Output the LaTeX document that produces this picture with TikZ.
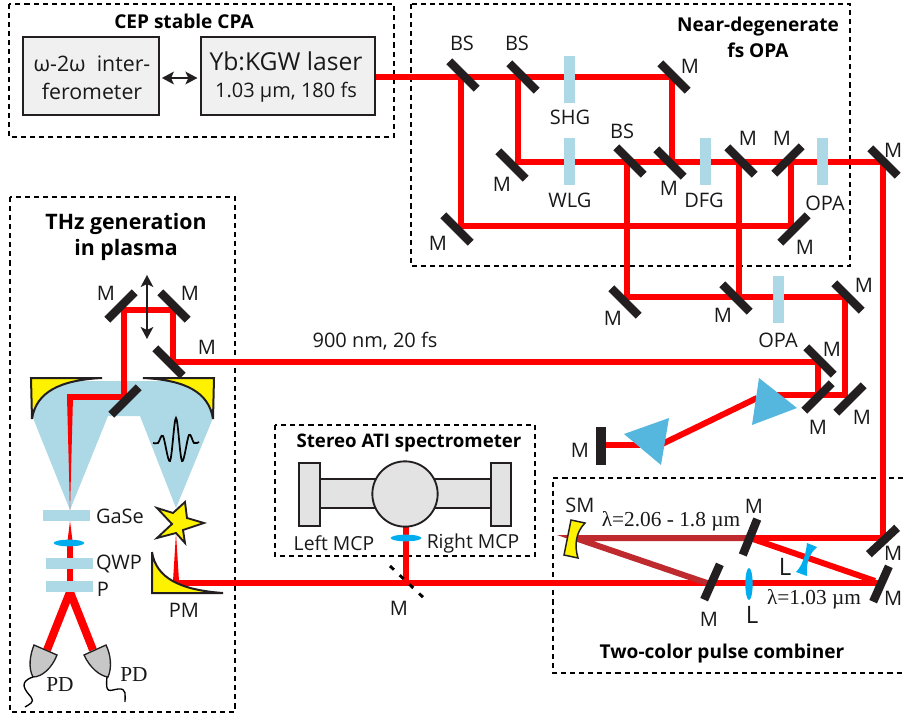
\documentclass[tikz,border=0pt]{standalone}
\usepackage{fontspec}
\setmainfont{Open Sans}
\newfontfamily\grk{Open Sans}
\newfontfamily\srf{Liberation Serif}
\usetikzlibrary{arrows.meta}
\definecolor{dk}{HTML}{231F20}
\definecolor{plate}{HTML}{ADD8E6}
\definecolor{prism}{HTML}{56B7DE}
\definecolor{lens}{HTML}{00AEEF}
\definecolor{dred}{HTML}{BE2A2E}
\definecolor{yel}{HTML}{FFF200}
\tikzset{
 beam/.style={draw=red,line width=4.5pt},
 dbeam/.style={draw=dred,line width=4.5pt},
 taper/.style={fill=red,draw=none},
 mirror/.style={fill=dk,draw=none,inner sep=0pt,minimum width=29pt,minimum height=6.3pt},
 plateV/.style={fill=plate,draw=none,inner sep=0pt,minimum width=8.25pt,minimum height=35.25pt},
 plateH/.style={fill=plate,draw=none,inner sep=0pt,minimum width=35.25pt,minimum height=8.25pt},
 lensE/.style={ellipse,fill=lens,draw=none,inner sep=0pt},
 dbox/.style={draw=black,line width=1.4pt,dash pattern=on 3.8pt off 3pt},
 lab/.style={inner sep=0pt,text=black!90,font=\fontsize{15}{18}\selectfont,align=center},
 tit/.style={inner sep=0pt,text=black,font=\fontsize{14.3}{19.5}\selectfont\bfseries,align=center},
 ser/.style={inner sep=0pt,text=black!90,font=\fontsize{16}{18}\selectfont\srf},
 hard/.style={draw=dk,line width=1.4pt,fill=#1},
 gbox/.style={draw=dk,line width=1.3pt,fill=black!6,inner sep=0pt},
 dblarrow/.style={{Stealth[length=9pt,width=9.5pt,inset=2.2pt]}-{Stealth[length=9pt,width=9.5pt,inset=2.2pt]},dk},
}
\usetikzlibrary{shapes.geometric}
\begin{document}
\begin{tikzpicture}[x=0.75pt,y=-0.75pt]
\useasboundingbox (0,0) rectangle (903,717);
\clip (0,0) rectangle (903,717);
\fill[white] (0,0) rectangle (903,717);
% beam vertices
\coordinate (a0) at (375,77.5);
\coordinate (a1) at (672,77.5);
\coordinate (a2) at (672,162);
\coordinate (b1) at (461,77.5);
\coordinate (b2) at (461,226);
\coordinate (b3) at (791,226);
\coordinate (b4) at (791,162);
\coordinate (c1) at (517.5,77.5);
\coordinate (c2) at (517.5,162);
\coordinate (c3) at (883,162);
\coordinate (c4) at (883,538);
\coordinate (c5) at (750,538);
\coordinate (c6) at (575,538);
\coordinate (c7) at (707,583);
\coordinate (c8) at (875,581);
\coordinate (d0) at (881,583);
\coordinate (d1) at (173,583);
\coordinate (e1) at (627,162);
\coordinate (e2) at (627,297);
\coordinate (e3) at (845,297);
\coordinate (e4) at (845,395);
\coordinate (e5) at (770,395);
\coordinate (e6) at (757,398);
\coordinate (e7) at (660,445);
\coordinate (e8) at (640,445);
\coordinate (e9) at (601,445);
\coordinate (f1) at (739,162);
\coordinate (f2) at (739,297);
\coordinate (g0) at (818,395);
\coordinate (g1) at (818,362);
\coordinate (g2) at (173,362);
\coordinate (g3) at (173,310);
\coordinate (g4) at (124,310);
\coordinate (g5) at (124,397);
\coordinate (g6) at (67,397);
\coordinate (h1) at (406,527);
\coordinate (h2) at (406,583);
\coordinate (p1) at (70,543);
\coordinate (p2) at (70,592);
\coordinate (p3) at (47,650);
\coordinate (p4) at (93,650);
% light-blue THz cones
\fill[plate] (33,418)--(33,395)--(72,381)--(175,381)--(213,395)--(213,418)--(176,508)--(140,416)--(108,416)--(70,510)--cycle;
% dashed frames
\draw[dbox] (9,4) rectangle (394,137);
\draw[dbox] (411,4) rectangle (850,266);
\draw[dbox] (10,197) rectangle (235,712);
\draw[dbox] (275,425) rectangle (535,556);
\draw[dbox] (903,478)--(553,478)--(553,673)--(903,673);
% beams
\draw[beam] (a0)--(a1)--(a2);
\draw[beam] (b1)--(b2)--(b3)--(b4);
\draw[beam] (c1)--(c2)--(c3)--(c4)--(c5);
\draw[beam] (c5)--(c8);
\draw[beam] (e1)--(e2)--(e3)--(e4)--(e5);
\draw[beam] (e6)--(e7);
\draw[beam] (e8)--(e9);
\draw[beam] (f1)--(f2);
\draw[beam] (g0)--(g1)--(g2)--(g3)--(g4)--(g5)--(g6);
\draw[beam] (d0)--(d1);
\draw[beam] (h1)--(h2);
\draw[beam] (p1)--(p2);
\draw[draw=red,line width=6pt] (p3)--(p2)--(p4);
\draw[dbeam] (c5)--(c6)--(c7);
% tapered beams
\fill[taper] (67,397)--(73,397)--(70,510)--cycle;
\fill[taper] (70,521)--(73,545)--(67,545)--cycle;
\fill[taper] (176,533)--(179,581)--(173,581)--cycle;
% plates
\node[plateV] (shg) at (569,79.5) {};
\node[plateV] (wlg) at (569,161.5) {};
\node[plateV] (dfg) at (705,161.5) {};
\node[plateV] (opa1) at (822,161.5) {};
\node[plateV] (opa2) at (778,299.5) {};
\node[plateH] (gase) at (66.5,515.5) {};
\node[plateH] (qwp) at (69.5,563.5) {};
\node[plateH] (pol) at (69.5,586.5) {};
% mirrors
\node[mirror,rotate=-45] (mBS1) at (463,75) {};
\node[mirror,rotate=-45] (mBS2) at (523,77) {};
\node[mirror,rotate=-45] (mT) at (674,77) {};
\node[mirror,rotate=-45] (mL) at (512,165) {};
\node[mirror,rotate=-45] (mBS3) at (630,161) {};
\node[mirror,rotate=-45] (mC) at (670,163) {};
\node[mirror,rotate=-45] (mD) at (741,161) {};
\node[mirror,rotate=45] (mE) at (788,160) {};
\node[mirror,rotate=-45] (mF) at (884,162) {};
\node[mirror,rotate=-45] (mG) at (457,229) {};
\node[mirror,rotate=45] (mH) at (794,229) {};
\node[mirror,rotate=-45] (mI) at (625,302) {};
\node[mirror,rotate=-45] (mJ) at (736,298) {};
\node[mirror,rotate=-45] (mK) at (848,297) {};
\node[mirror,rotate=-45] (mN) at (820,361) {};
\node[mirror,rotate=45] (mO) at (818,397) {};
\node[mirror,rotate=45] (mP) at (850,399) {};
\node[mirror,minimum width=28.5pt,minimum height=6.9pt,rotate=90] (mQ) at (601,446) {};
\node[mirror,rotate=43] (mR) at (883,541) {};
\node[mirror,rotate=68] (mS) at (750,537) {};
\node[mirror,rotate=66] (mU) at (712,582) {};
\node[mirror,rotate=66] (mV) at (881,584) {};
\node[mirror,rotate=45] (mW) at (121,306) {};
\node[mirror,rotate=-45] (mX) at (174,306) {};
\node[mirror,rotate=-45] (mY) at (169,362) {};
\node[mirror,rotate=45] (mZ) at (125,401) {};
% prisms
\fill[prism] (759,378)--(797,408)--(752,425)--cycle;
\fill[prism] (669,418)--(624,434)--(661,465)--cycle;
% lenses
\node[lensE,minimum width=5.5pt,minimum height=24pt] (lens1) at (749,584) {};
\node[lensE,minimum width=23pt,minimum height=5pt] (lens2) at (69,543) {};
\node[lensE,minimum width=23pt,minimum height=5pt] (lens3) at (406,538) {};
\fill[lens] (807,543)--(817,547) .. controls (808,555) and (806,565) .. (807,576)--(796,572) .. controls (803,565) and (806,553) .. cycle;
% top boxes
\node[gbox,minimum width=102pt,minimum height=58.5pt] (interf) at (91,76) {};
\node[gbox,minimum width=130.5pt,minimum height=58.5pt] (laser) at (288,76) {};
\draw[dblarrow,line width=1.9pt] ([xshift=1.5pt]interf.east |- 0,78) -- ([xshift=-2pt]laser.west |- 0,78);
\draw[dblarrow,line width=1.1pt] (147,275)--(147,339);
% parabolic mirrors
\fill[yel] (31,378)--(102,378) .. controls (60,380) and (36,392) .. (32,418)--cycle;
\draw[dk,line width=1.5pt] (32,419)--(31,378)--(102,378) .. controls (60,380) and (36,392) .. (32,419);
\fill[yel] (214,378)--(143,378) .. controls (185,380) and (209,392) .. (213,418)--cycle;
\draw[dk,line width=1.5pt] (213,419)--(214,378)--(143,378) .. controls (185,380) and (209,392) .. (213,419);
\fill[yel] (152,553)--(152,593)--(223,593) .. controls (180,590) and (156,578) .. cycle;
\draw[dk,line width=1.5pt] (152,552)--(152,593)--(223,593) .. controls (180,590) and (156,578) .. (152,552);
\draw[hard=yel,line width=1.1pt] (571,520)--(585,523) .. controls (576,532) and (574,545) .. (578,558)--(564,555)--cycle;
% star
\draw[hard=yel,line join=miter] (157,508)--(173,513)--(185,502)--(187,518)--(204,523)--(183,530)--(185,543)--(176,533)--(157,538)--(172,524)--cycle;
% pulse
\draw[black,line width=1.3pt] plot[smooth,tension=0.55] coordinates {(153,443)(158,443)(163,436)(170,461)(176,418)(182,461)(189,435)(194,443)(199,442)};
% detectors
\draw[hard=black!22,line width=1pt] (34,645)--(57,655) .. controls (52,668) and (42,677) .. (33,677) .. controls (28,668) and (30,655) .. cycle;
\draw[hard=black!22,line width=1pt] (84,655)--(106,645) .. controls (111,655) and (112,668) .. (108,677) .. controls (100,676) and (90,668) .. cycle;
\draw[black,line width=1pt] (33,677) .. controls (18,682) and (25,690) .. (31,697) .. controls (35,702) and (30,704) .. (25,707);
\draw[black,line width=1pt] (107,677) .. controls (105,695) and (110,690) .. (118,689) .. controls (127,688) and (125,695) .. (125,702);
% spectrometer
\draw[hard=black!11] (320,479) rectangle (491,508);
\draw[hard=black!11] (299,463) rectangle (320,526);
\draw[hard=black!11] (491,463) rectangle (511,526);
\node[circle,draw=dk,line width=1.4pt,fill=black!11,minimum size=49pt,inner sep=0pt] (sphere) at (405,494) {};
\draw[black,line width=2.2pt,dash pattern=on 4pt off 6pt] (390,566)--(427,601);
% texts
\node[tit] (t1) at (184,21) {CEP stable CPA};
\node[tit] (t2) at (758,37) {Near-degenerate\\fs OPA};
\node[tit,font=\fontsize{16}{20}\selectfont\bfseries] (t3) at (126,237) {THz generation\\in plasma};
\node[tit,font=\fontsize{14}{16}\selectfont\bfseries] (t4) at (409,443) {Stereo ATI spectrometer};
\node[tit] (t5) at (722,654) {Two-color pulse combiner};
\node[lab,font=\fontsize{16}{21}\selectfont] (i1) at (92,78) {{\grk ω}-2{\grk ω}\ \ inter-\\ferometer};
\node[lab,font=\fontsize{18.5}{20}\selectfont] (l1) at (286,61) {Yb:KGW laser};
\node[lab] (l2) at (286,92) {1.03 µm, 180 fs};
\node[lab] (n01) at (462,43) {BS};
\node[lab] (n02) at (517,43) {BS};
\node[lab] (n03) at (690,66) {M};
\node[lab] (n04) at (570,117) {SHG};
\node[lab] (n05) at (622,131) {BS};
\node[lab] (n06) at (748,138) {M};
\node[lab] (n07) at (782,138) {M};
\node[lab] (n08) at (502,184) {M};
\node[lab] (n09) at (570,200) {WLG};
\node[lab] (n10) at (669,188) {M};
\node[lab] (n11) at (704,200) {DFG};
\node[lab] (n12) at (825,203) {OPA};
\node[lab] (n13) at (438,243) {M};
\node[lab] (n14) at (805,247) {M};
\node[lab,anchor=east] (n15) at (902.5,150) {M};
\node[lab] (n16) at (613,318) {M};
\node[lab] (n17) at (723,315) {M};
\node[lab] (n18) at (778,340) {OPA};
\node[lab] (n19) at (864,285) {M};
\node[lab] (n20) at (832,349) {M};
\node[lab] (n21) at (818,427) {M};
\node[lab] (n22) at (862,417) {M};
\node[lab] (n23) at (580,450) {M};
\node[lab] (n24) at (375,341) {900 nm, 20 fs};
\node[lab] (n25) at (106,293) {M};
\node[lab] (n26) at (190,293) {M};
\node[lab] (n27) at (207,347) {M};
\node[lab] (n28) at (120,516) {GaSe};
\node[lab] (n29) at (119,564) {QWP};
\node[lab] (n30) at (103,589) {P};
\node[lab] (n31) at (184,610) {PM};
\node[ser] (n32) at (60,685) {PD};
\node[ser] (n33) at (134,675) {PD};
\node[lab,font=\fontsize{14.5}{18}\selectfont] (n34) at (334,543) {Left MCP};
\node[lab,font=\fontsize{14.5}{18}\selectfont] (n35) at (473,543) {Right MCP};
\node[lab] (n36) at (399,608) {M};
\node[lab] (n37) at (580,505) {SM};
\node[ser] (n38) at (671,521) {λ=2.06 - 1.8 µm};
\node[lab] (n39) at (754,506) {M};
\node[lab,font=\fontsize{18}{20}\selectfont] (n40) at (785,567) {L};
\node[lab,font=\fontsize{18}{20}\selectfont] (n41) at (752,615) {L};
\node[ser] (n42) at (814,599) {λ=1.03 µm};
\node[lab] (n43) at (709,619) {M};
\node[lab,anchor=east] (n44) at (902.5,553) {M};
\node[lab,anchor=east] (n45) at (902.5,598) {M};
\end{tikzpicture}
\end{document}
